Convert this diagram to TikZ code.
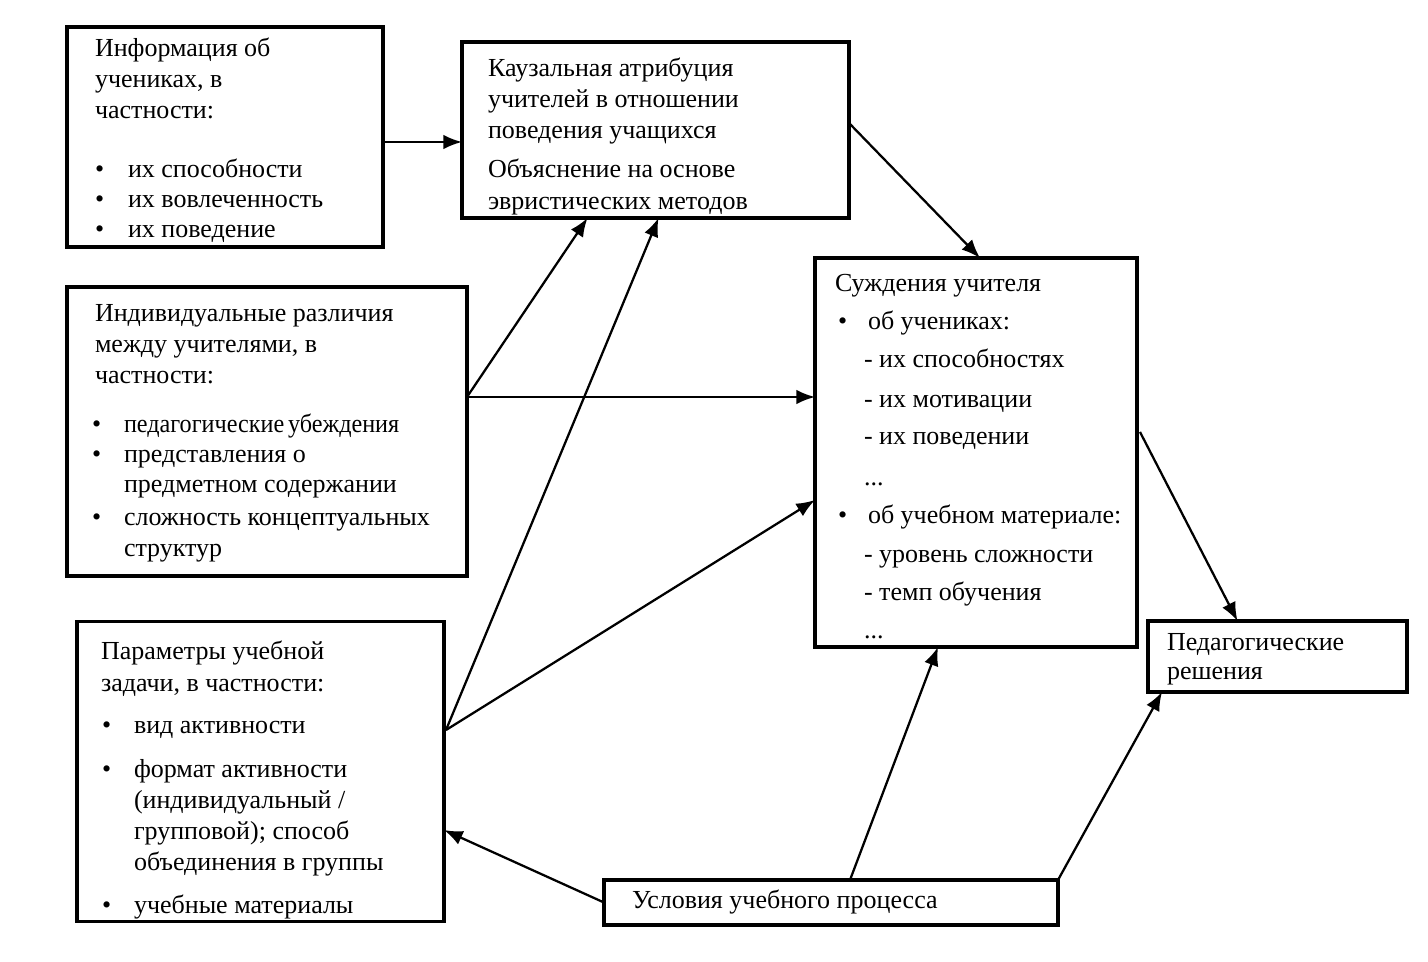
\documentclass[tikz,border=0pt]{standalone}
\usepackage{fontspec}
\usepackage{graphicx}
\setmainfont{Liberation Serif}
\usetikzlibrary{arrows.meta,calc}
\newcommand\tline[4]{\node[ln] (#1) at (#2,#3) {#4};}
\begin{document}
\begin{tikzpicture}[x=0.75pt,y=-0.75pt,
  box/.style={draw,line width=2.6pt,inner sep=0pt,outer sep=0pt,rectangle},
  ln/.style={anchor=base west,inner sep=0pt,outer sep=0pt,font=\fontsize{19.5}{23}\selectfont},
  arr/.style={line width=1.7pt,-{Latex[length=14pt,width=11pt]}}]
\useasboundingbox (0,0) rectangle (1428,962);
% boxes
\node[box,minimum width=237pt,minimum height=165pt] (b1) at (225,137) {};
\node[box,minimum width=290.25pt,minimum height=132pt] (b2) at (655.5,130) {};
\node[box,minimum width=300pt,minimum height=216.75pt] (b3) at (267,431.5) {};
\node[box,minimum width=241.5pt,minimum height=291.75pt] (b4) at (976,452.5) {};
\node[box,minimum width=275.25pt,minimum height=225pt] (b5) at (260.5,771.5) {};
\node[box,minimum width=194.25pt,minimum height=53.25pt] (b6) at (1277.5,656.5) {};
\node[box,minimum width=340.5pt,minimum height=33.75pt] (b7) at (831,902.5) {};
% box 1 text
\tline{a1}{95}{57}{Информация об}
\tline{a2}{95}{88}{учениках, в}
\tline{a3}{95}{119}{частности:}
\tline{a4d}{95}{178}{•}\tline{a4}{128}{178}{их способности}
\tline{a5d}{95}{208}{•}\tline{a5}{128}{208}{их вовлеченность}
\tline{a6d}{95}{238}{•}\tline{a6}{128}{238}{их поведение}
% box 2 text
\tline{c1}{488}{77}{Каузальная атрибуция}
\tline{c2}{488}{108}{учителей в отношении}
\tline{c3}{488}{139}{поведения учащихся}
\tline{c4}{488}{178}{Объяснение на основе}
\tline{c5}{488}{210}{эвристических методов}
% box 3 text
\tline{d1}{95}{322}{Индивидуальные различия}
\tline{d2}{95}{353}{между учителями, в}
\tline{d3}{95}{384}{частности:}
\tline{d4d}{92}{432}{•}\tline{d4}{124}{432}{\scalebox{0.93}[1]{педагогические\hspace{3pt}убеждения}}
\tline{d5d}{92}{462}{•}\tline{d5}{124}{462}{представления о}
\tline{d6}{124}{493}{предметном содержании}
\tline{d7d}{92}{525}{•}\tline{d7}{124}{525}{сложность концептуальных}
\tline{d8}{124}{556}{структур}
% box 4 text
\tline{e1}{835}{292}{Суждения учителя}
\tline{e2d}{838}{330}{•}\tline{e2}{868}{330}{об учениках:}
\tline{e3}{864}{368}{- их способностях}
\tline{e4}{864}{407}{- их мотивации}
\tline{e5}{864}{445}{- их поведении}
\tline{e6}{864}{485}{...}
\tline{e7d}{838}{523}{•}\tline{e7}{868}{523}{об учебном материале:}
\tline{e8}{864}{562}{- уровень сложности}
\tline{e9}{864}{600}{- темп обучения}
\tline{e10}{864}{638}{...}
% box 5 text
\tline{f1}{101}{659}{Параметры учебной}
\tline{f2}{101}{691}{задачи, в частности:}
\tline{f3d}{102}{733}{•}\tline{f3}{134}{733}{вид активности}
\tline{f4d}{102}{777}{•}\tline{f4}{134}{777}{формат активности}
\tline{f5}{134}{808}{(индивидуальный /}
\tline{f6}{134}{839}{групповой); способ}
\tline{f7}{134}{870}{объединения в группы}
\tline{f8d}{102}{913}{•}\tline{f8}{134}{913}{учебные материалы}
% box 6 text
\tline{g1}{1167}{650}{Педагогические}
\tline{g2}{1167}{679}{решения}
% box 7 text
\tline{h1}{632}{908}{Условия учебного процесса}
% connectors
\coordinate (p3) at ($(b3.east)+(0,-34.5)$);
\coordinate (p5) at ($(b5.east)+(2,-41.5)$);
\draw[arr] ($(b1.east)+(0,5)$) -- ($(b2.west)+(0,12)$);
\draw[arr] (p3) -- ($(b2.south)+(-68,0)$);
\draw[arr] (p3) -- (p3 -| b4.west);
\draw[arr] (p5) -- ($(b2.south)+(3,0)$);
\draw[arr] (p5) -- ($(b4.west)+(0,47.5)$);
\draw[arr] ($(b2.east)+(0,-7)$) -- ($(b4.north)+(4,0)$);
\draw[arr] ($(b4.east)+(3,-20.5)$) -- ($(b6.north)+(-40,0)$);
\draw[arr] ($(b7.north)+(19,0)$) -- ($(b4.south)+(-38,0)$);
\draw[arr] (b7.north east) -- ($(b6.south)+(-115.5,0)$);
\draw[arr] (b7.west) -- ($(b5.east)+(0,58.5)$);
\end{tikzpicture}
\end{document}
